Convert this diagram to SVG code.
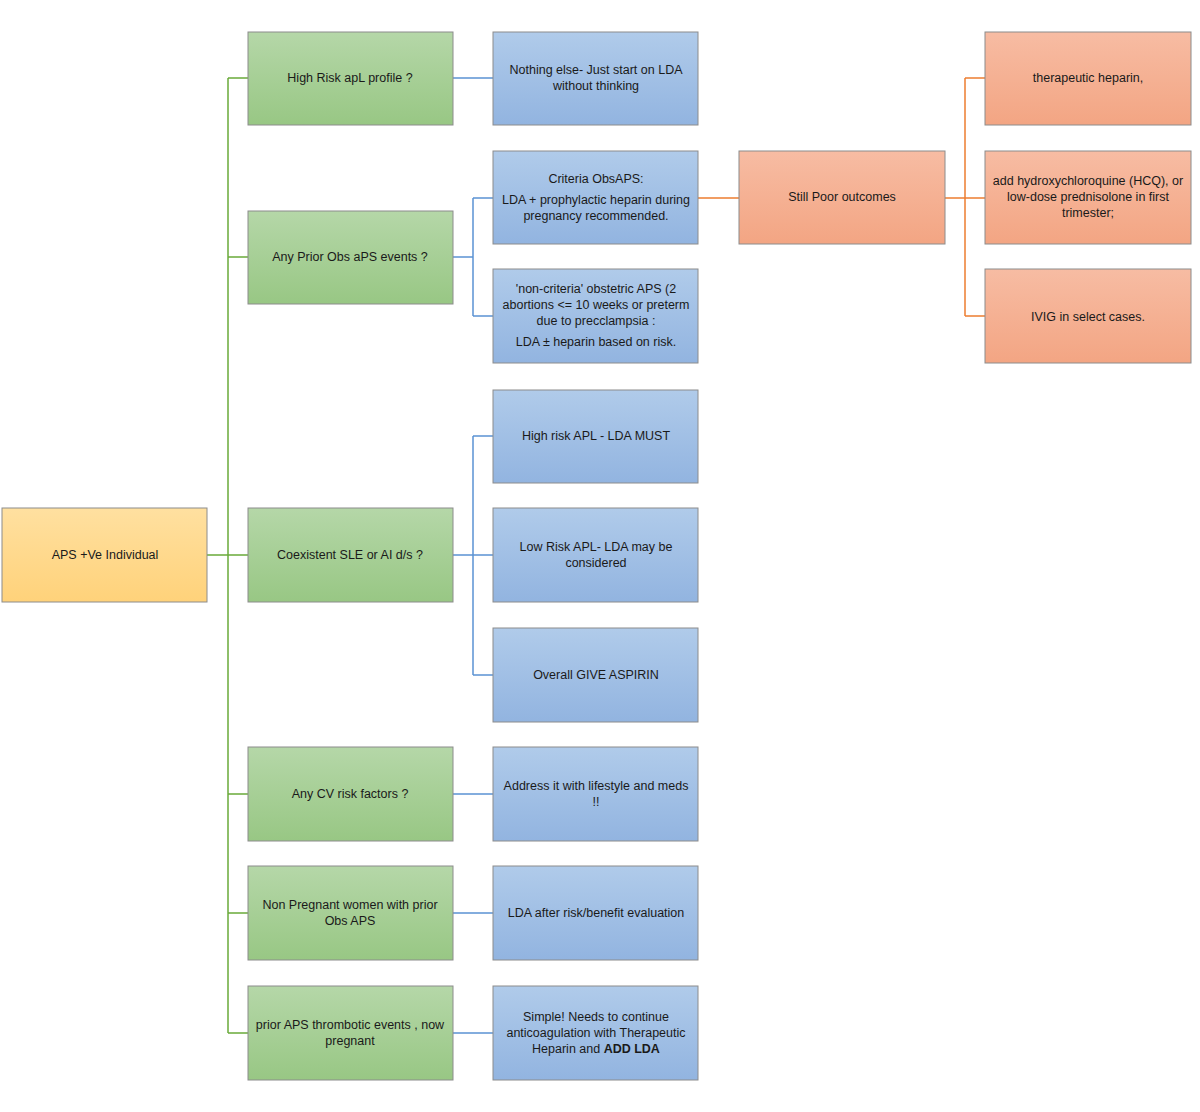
<svg xmlns="http://www.w3.org/2000/svg" width="1200" height="1112" viewBox="0 0 1200 1112">
<defs>
<linearGradient id="gG" x1="0" y1="0" x2="0" y2="1"><stop offset="0" stop-color="#b5d7a8"/><stop offset="1" stop-color="#98c784"/></linearGradient>
<linearGradient id="gB" x1="0" y1="0" x2="0" y2="1"><stop offset="0" stop-color="#b0cbea"/><stop offset="1" stop-color="#92b4e0"/></linearGradient>
<linearGradient id="gO" x1="0" y1="0" x2="0" y2="1"><stop offset="0" stop-color="#f7bca3"/><stop offset="1" stop-color="#f3a583"/></linearGradient>
<linearGradient id="gY" x1="0" y1="0" x2="0" y2="1"><stop offset="0" stop-color="#ffe0a0"/><stop offset="1" stop-color="#ffd27a"/></linearGradient>
</defs>
<style>
rect{stroke:#8c8c8c;stroke-width:1}
.g{fill:url(#gG)}.b{fill:url(#gB)}.o{fill:url(#gO)}.y{fill:url(#gY)}
text{font-family:"Liberation Sans",Arial,sans-serif;font-size:12.5px;fill:#1a1a1a;text-anchor:middle}
.cg{stroke:#6aaa3a;fill:none;stroke-width:1.5}
.cb{stroke:#5b93d3;fill:none;stroke-width:1.5}
.co{stroke:#ed7d31;fill:none;stroke-width:1.5}
</style>
<rect width="1200" height="1112" fill="#fff" style="stroke:none"/>
<g id="connectors">
<path class="cg" d="M207 555H228M228 78V1033M228 78H248M228 257H248M228 555H248M228 794H248M228 913H248M228 1033H248"/>
<path class="cb" d="M453 78H493M453 257H473M473 198V316M473 198H493M473 316H493M453 555H473M473 436V675M473 436H493M473 555H493M473 675H493M453 794H493M453 913H493M453 1033H493"/>
<path class="co" d="M698 198H739M945 198H965M965 78V316M965 78H985M965 198H985M965 316H985"/>
</g>
<g id="root"><rect class="y" x="2" y="508" width="205" height="94"/><text x="105" y="559">APS +Ve Individual</text></g>
<g id="g1"><rect class="g" x="248" y="32" width="205" height="93"/><text x="350" y="82">High Risk apL profile ?</text></g>
<g id="g2"><rect class="g" x="248" y="211" width="205" height="93"/><text x="350" y="261">Any Prior Obs aPS events ?</text></g>
<g id="g3"><rect class="g" x="248" y="508" width="205" height="94"/><text x="350" y="559">Coexistent SLE or AI d/s ?</text></g>
<g id="g4"><rect class="g" x="248" y="747" width="205" height="94"/><text x="350" y="798">Any CV risk factors ?</text></g>
<g id="g5"><rect class="g" x="248" y="866" width="205" height="94"/><text x="350" y="909">Non Pregnant women with prior</text><text x="350" y="925">Obs APS</text></g>
<g id="g6"><rect class="g" x="248" y="986" width="205" height="94"/><text x="350" y="1029">prior APS thrombotic events , now</text><text x="350" y="1045">pregnant</text></g>
<g id="b1"><rect class="b" x="493" y="32" width="205" height="93"/><text x="596" y="74">Nothing else- Just start on LDA</text><text x="596" y="90">without thinking</text></g>
<g id="b2"><rect class="b" x="493" y="151" width="205" height="93"/><text x="596" y="183">Criteria ObsAPS:</text><text x="596" y="204">LDA + prophylactic heparin during</text><text x="596" y="220">pregnancy recommended.</text></g>
<g id="b3"><rect class="b" x="493" y="269" width="205" height="94"/><text x="596" y="293">'non-criteria' obstetric APS (2</text><text x="596" y="309">abortions &lt;= 10 weeks or preterm</text><text x="596" y="325">due to precclampsia :</text><text x="596" y="346">LDA ± heparin based on risk.</text></g>
<g id="b4"><rect class="b" x="493" y="390" width="205" height="93"/><text x="596" y="440">High risk APL - LDA MUST</text></g>
<g id="b5"><rect class="b" x="493" y="508" width="205" height="94"/><text x="596" y="551">Low Risk APL- LDA may be</text><text x="596" y="567">considered</text></g>
<g id="b6"><rect class="b" x="493" y="628" width="205" height="94"/><text x="596" y="679">Overall GIVE ASPIRIN</text></g>
<g id="b7"><rect class="b" x="493" y="747" width="205" height="94"/><text x="596" y="790">Address it with lifestyle and meds</text><text x="596" y="806">!!</text></g>
<g id="b8"><rect class="b" x="493" y="866" width="205" height="94"/><text x="596" y="917">LDA after risk/benefit evaluation</text></g>
<g id="b9"><rect class="b" x="493" y="986" width="205" height="94"/><text x="596" y="1021">Simple! Needs to continue</text><text x="596" y="1037">anticoagulation with Therapeutic</text><text x="596" y="1053">Heparin and <tspan font-weight="bold">ADD LDA</tspan></text></g>
<g id="o0"><rect class="o" x="739" y="151" width="206" height="93"/><text x="842" y="201">Still Poor outcomes</text></g>
<g id="o1"><rect class="o" x="985" y="32" width="206" height="93"/><text x="1088" y="82">therapeutic heparin,</text></g>
<g id="o2"><rect class="o" x="985" y="151" width="206" height="93"/><text x="1088" y="185">add hydroxychloroquine (HCQ), or</text><text x="1088" y="201">low-dose prednisolone in first</text><text x="1088" y="217">trimester;</text></g>
<g id="o3"><rect class="o" x="985" y="269" width="206" height="94"/><text x="1088" y="321">IVIG in select cases.</text></g>
</svg>
